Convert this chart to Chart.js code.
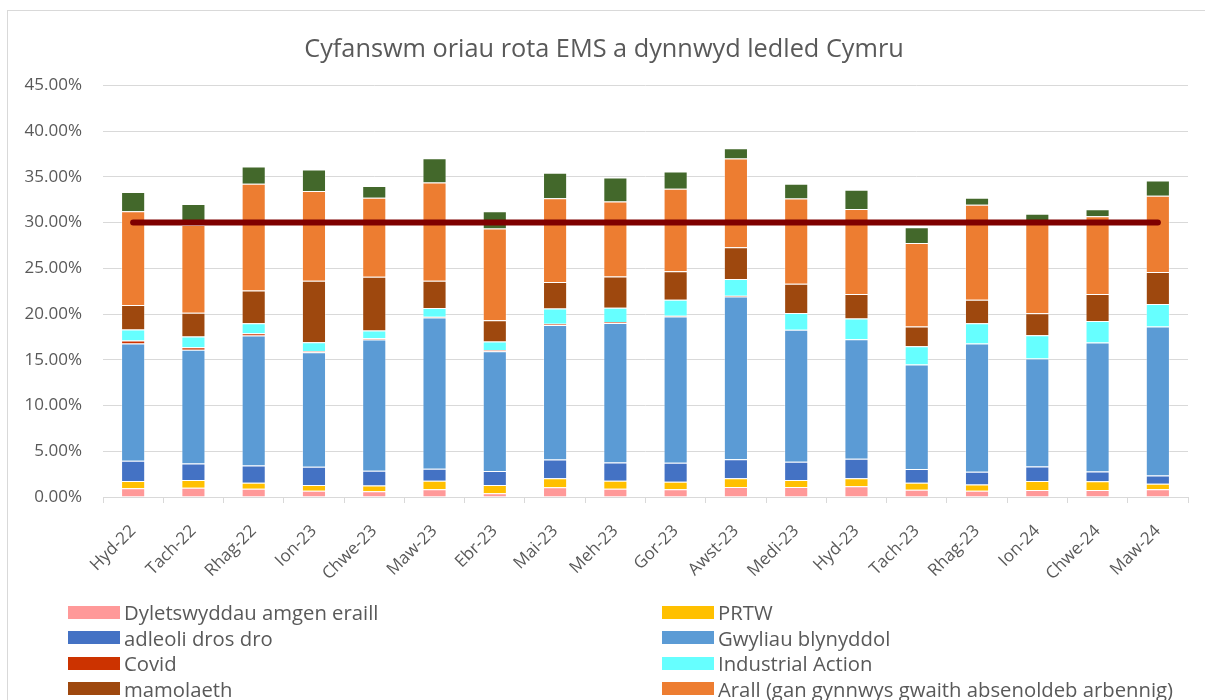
<!DOCTYPE html>
<html>
<head>
<meta charset="utf-8">
<script src="https://cdn.jsdelivr.net/npm/chart.js@4"></script>
<style>
  body { margin: 0; background: #fff; font-family: 'Open Sans', sans-serif; overflow: hidden; }
  #frame { position: absolute; left: 7px; top: 10px; width: 1210px; height: 800px; border: 1px solid #d9d9d9; }
  #wrap { position: absolute; left: 0; top: 0; width: 1205px; height: 600px; }
  #legend { position: absolute; left: 0; top: 600px; width: 1205px; }
  .item { position: absolute; display: flex; align-items: center; color: #595959; font-size: 20.3px; white-space: nowrap; }
  .box { width: 52px; height: 13px; margin-right: 4px; }
</style>
</head>
<body>
<div id="frame"></div>
<div id="wrap"><canvas id="chart"></canvas></div>
<div id="legend"></div>
<script>
// ----------------- DATA (percent of rota hours) -----------------

const months = ['Hyd-22', 'Tach-22', 'Rhag-22', 'Ion-23', 'Chwe-23', 'Maw-23', 'Ebr-23', 'Mai-23', 'Meh-23',
    'Gor-23', 'Awst-23', 'Medi-23', 'Hyd-23', 'Tach-23', 'Rhag-23', 'Ion-24', 'Chwe-24', 'Maw-24'];

const dyletswyddau = [0.95, 1.01, 0.90, 0.69, 0.62, 0.84, 0.40, 1.06, 0.90, 0.84, 1.09, 1.09, 1.17, 0.80, 0.69, 0.76, 0.76, 0.84];
const prtw = [0.79, 0.84, 0.66, 0.62, 0.65, 0.94, 0.91, 0.98, 0.88, 0.83, 0.95, 0.76, 0.87, 0.76, 0.69, 0.98, 0.95, 0.61];
const adleoli = [2.21, 1.82, 1.89, 1.99, 1.59, 1.30, 1.52, 2.07, 2.00, 2.07, 2.10, 2.00, 2.13, 1.49, 1.38, 1.60, 1.09, 0.91];
const gwyliau = [12.83, 12.42, 14.20, 12.53, 14.35, 16.53, 13.11, 14.70, 15.25, 15.98, 17.79, 14.42, 13.08, 11.44, 14.02, 11.80, 14.08, 16.27];
const covid = [0.32, 0.28, 0.25, 0.11, 0.14, 0.10, 0.12, 0.12, 0.10, 0.10, 0.08, 0, 0, 0, 0, 0, 0, 0];
const industrial = [1.20, 1.17, 1.09, 0.98, 0.84, 0.95, 0.94, 1.67, 1.56, 1.74, 1.82, 1.85, 2.26, 1.99, 2.21, 2.54, 2.37, 2.47];
const mamolaeth = [2.69, 2.61, 3.59, 6.72, 5.88, 2.97, 2.33, 2.90, 3.42, 3.13, 3.48, 3.19, 2.68, 2.15, 2.58, 2.40, 2.94, 3.49];
const arall = [10.24, 9.59, 11.66, 9.80, 8.64, 10.75, 10.02, 9.15, 8.20, 9.01, 9.70, 9.31, 9.30, 9.15, 10.38, 10.09, 8.50, 8.34];
const salwch = [2.10, 2.29, 1.89, 2.37, 1.28, 2.65, 1.88, 2.80, 2.62, 1.88, 1.12, 1.63, 2.10, 1.72, 0.76, 0.80, 0.76, 1.68];
const targed = months.map(() => 30);

const yTicks = [0, 5, 10, 15, 20, 25, 30, 35, 40, 45];

// ----------------- CHART -----------------

Chart.defaults.font.family = "'Open Sans', sans-serif";
Chart.defaults.color = '#595959';

function bar(label, data, color) {
    return {
        type: 'bar', label: label, data: data, backgroundColor: color,
        borderColor: 'rgba(255,255,255,0.35)', borderWidth: 1,
        stack: 'a', order: 1, categoryPercentage: 0.4, barPercentage: 1
    };
}

const ctx = document.getElementById('chart').getContext('2d');
const chart = new Chart(ctx, {
    data: {
        labels: months,
        datasets: [
            bar('Dyletswyddau amgen eraill', dyletswyddau, '#FF9999'),
            bar('PRTW', prtw, '#FFC000'),
            bar('adleoli dros dro', adleoli, '#4472C4'),
            bar('Gwyliau blynyddol', gwyliau, '#5B9BD5'),
            bar('Covid', covid, '#CC3300'),
            bar('Industrial Action', industrial, '#66FFFF'),
            bar('mamolaeth', mamolaeth, '#9E480E'),
            bar('Arall (gan gynnwys gwaith absenoldeb arbennig)', arall, '#ED7D31'),
            bar('Salwch', salwch, '#43682B'),
            {
                type: 'line', label: 'Targed', data: targed, stack: 'line', order: 0,
                borderColor: '#7F0000', backgroundColor: '#7F0000', borderWidth: 6,
                borderCapStyle: 'round', pointRadius: 0, fill: false
            }
        ]
    },
    options: {
        responsive: true,
        maintainAspectRatio: false,
        animation: false,
        layout: { padding: { top: 0, left: 20, right: 17, bottom: 0 } },
        plugins: {
            legend: { display: false },
            tooltip: { enabled: false },
            title: {
                display: true,
                text: 'Cyfanswm oriau rota EMS a dynnwyd ledled Cymru',
                color: '#595959',
                font: { size: 25.3, weight: 'normal' },
                padding: { top: 35, bottom: 20 }
            }
        },
        scales: {
            x: {
                stacked: true,
                grid: { drawOnChartArea: false, drawTicks: true, tickLength: 6, color: '#d9d9d9', offset: true },
                border: { display: true, color: '#d9d9d9', width: 1 },
                ticks: { minRotation: 45, maxRotation: 45, autoSkip: false, padding: 18, font: { size: 17 } },
                afterFit: function (scale) { scale.height = 103; }
            },
            y: {
                stacked: true,
                min: 0,
                max: 45,
                afterBuildTicks: function (scale) { scale.ticks = yTicks.map(v => ({ value: v })); },
                grid: { color: '#d9d9d9', drawTicks: false },
                border: { display: false },
                ticks: { padding: 21, font: { size: 17 }, callback: v => v.toFixed(2) + '%' },
                afterFit: function (scale) { scale.width = 83; }
            }
        }
    }
});

// ----------------- LEGEND (two columns, like the original) -----------------

const legendEl = document.getElementById('legend');
chart.data.datasets.forEach(function (ds, i) {
    const col = i % 2, row = Math.floor(i / 2);
    const item = document.createElement('div');
    item.className = 'item';
    item.style.left = (col === 0 ? 68 : 662) + 'px';
    item.style.top = (row * 25.6) + 'px';
    item.style.height = '24px';
    const box = document.createElement('span');
    box.className = 'box';
    box.style.background = ds.backgroundColor;
    const txt = document.createElement('span');
    txt.textContent = ds.label;
    item.appendChild(box);
    item.appendChild(txt);
    legendEl.appendChild(item);
});
</script>
</body>
</html>
